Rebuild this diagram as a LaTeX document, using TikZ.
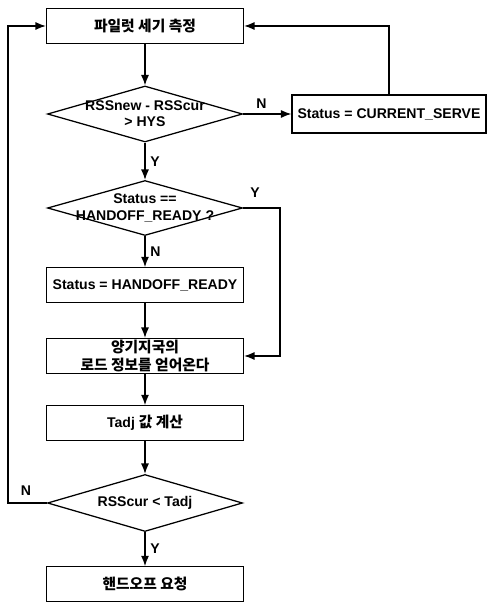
\documentclass[tikz,border=0pt]{standalone}
\usepackage{fontspec}
\setmainfont{Liberation Sans}
\newfontfamily\kor{Noto Sans CJK KR}
\usepackage{tikz}
\usetikzlibrary{shapes.geometric,arrows.meta}

\tikzset{
  stepbox/.style={draw, line width=0.9pt, minimum width=4.925cm, minimum height=0.86cm, align=center, inner sep=1pt, font=\bfseries\fontsize{10}{12}\selectfont},
  decide/.style={draw, diamond, line width=0.9pt, minimum width=4.875cm, minimum height=1.4cm, inner sep=0pt},
  inside/.style={align=center, inner sep=0pt, font=\bfseries\fontsize{10}{11.5}\selectfont},
  flow/.style={-{Latex[length=2.6mm,width=2mm]}, line width=0.9pt},
  yn/.style={font=\bfseries\fontsize{10}{11}\selectfont},
  hangul/.style={font=\kor\bfseries\fontsize{10.5}{13}\selectfont}
}

\begin{document}
\begin{tikzpicture}
  \useasboundingbox (0,0) rectangle (12.175,15.125);

  \node[stepbox, hangul] (measure) at (3.625,14.475) {파일럿 세기 측정};
  \node[decide, label={[inside]center:RSSnew - RSScur\\> HYS}] (hys) at (3.625,12.275) {};
  \node[stepbox, minimum width=4.85cm, minimum height=0.95cm] (serve) at (9.725,12.275) {Status = CURRENT\_SERVE};
  \node[decide, minimum height=1.375cm, label={[inside]center:Status ==\\HANDOFF\_READY ?}] (ready) at (3.625,9.925) {};
  \node[stepbox] (setready) at (3.625,8.0) {Status = HANDOFF\_READY};
  \node[stepbox, hangul] (load) at (3.625,6.225) {양기지국의\\로드 정보를 얻어온다};
  \node[stepbox] (tadj) at (3.625,4.55) {Tadj {\kor\fontsize{10.5}{13}\selectfont 값 계산}};
  \node[decide, minimum height=1.425cm, label={[inside]center:RSScur < Tadj}] (cmp) at (3.625,2.55) {};
  \node[stepbox, hangul] (handoff) at (3.625,0.525) {핸드오프 요청};

  \coordinate (bypass) at (7.0,0);
  \coordinate (loopback) at (0.2,0);

  \draw[flow] (measure) -- (hys);
  \draw[flow] (hys.east) -- (serve.west) node[yn, pos=0.38, above] {N};
  \draw[flow] (serve.north) |- (measure.east);
  \draw[flow] (hys.south) -- (ready.north) node[yn, midway, right] {Y};
  \draw[flow] (ready.east) -- (ready.east -| bypass) |- (load.east);
  \node[yn] (yready) at (6.375,10.3) {Y};
  \draw[flow] (ready.south) -- (setready.north) node[yn, midway, right] {N};
  \draw[flow] (setready) -- (load);
  \draw[flow] (load) -- (tadj);
  \draw[flow] (tadj) -- (cmp);
  \draw[flow] (cmp.south) -- (handoff.north) node[yn, midway, right] {Y};
  \draw[flow] (cmp.west) -- (cmp.west -| loopback) |- (measure.west);
  \node[yn] (ncmp) at (0.65,2.85) {N};
\end{tikzpicture}
\end{document}
